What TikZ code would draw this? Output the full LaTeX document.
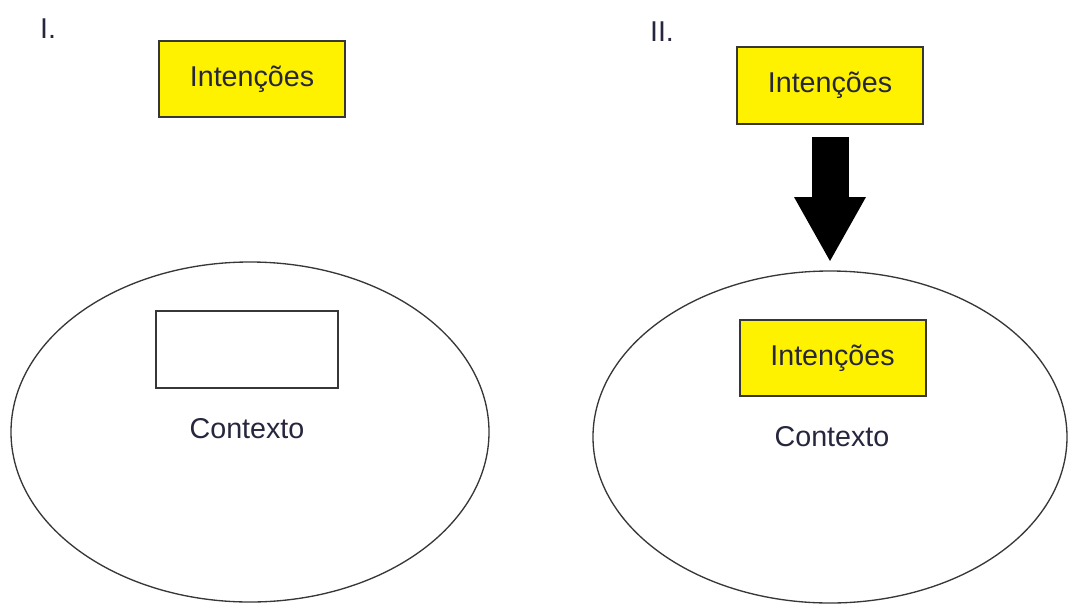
\documentclass[tikz,border=0pt]{standalone}
\usepackage{fontspec}
\setmainfont{Liberation Sans}
\usetikzlibrary{shapes.geometric,arrows.meta}

\definecolor{boxyellow}{RGB}{255,242,0}
\definecolor{txtdark}{RGB}{38,38,62}
\definecolor{linedark}{RGB}{55,55,55}

\begin{document}
\begin{tikzpicture}[x=0.75pt,y=0.75pt,yscale=-1,xscale=1,
  lbl/.style={text=txtdark, inner sep=0pt, font=\fontsize{21.5}{26}\selectfont},
  intbox/.style={lbl, draw=linedark, line width=1.5pt, fill=boxyellow, minimum width=139.5pt, minimum height=57.5pt},
  emptybox/.style={draw=linedark, line width=1.5pt, fill=white, minimum width=136.5pt, minimum height=57.75pt, inner sep=0pt},
  ctx/.style={ellipse, draw=linedark, line width=1pt, inner sep=0pt},
  bigarrow/.style={line width=27.75pt, -{Triangle[width=54pt, length=48pt, line width=0pt]}}]
%set diagram size to the reference, 1068 x 604
\useasboundingbox (0,0) rectangle (1068,604);

%Text: I.
\node[lbl] (numA) at (48,29) {I.};
%Shape: Rectangle
\node[intbox] (intA) at (252,79) {Intenções};
%Shape: Ellipse
\node[ctx, minimum width=358.5pt, minimum height=255pt] (ctxA) at (250,432) {};
%Shape: Rectangle
\node[emptybox] (slotA) at (247,349.5) {};
%Text: Contexto
\node[lbl] (ctxtxtA) at (247,429) {Contexto};

%Text: II.
\node[lbl] (numB) at (662,32) {II.};
%Shape: Rectangle
\node[intbox] (intB) at (830,85.5) {Intenções};
%Shape: Ellipse
\node[ctx, minimum width=355.5pt, minimum height=249pt] (ctxB) at (830,437) {};
%Shape: Rectangle
\node[intbox] (intinB) at (832.5,358) {Intenções};
%Text: Contexto
\node[lbl] (ctxtxtB) at (832,437) {Contexto};

%Straight Lines: block arrow
\draw[bigarrow, shorten <=9pt, shorten >=7pt] (intB.south) -- (ctxB.north);

\end{tikzpicture}
\end{document}
